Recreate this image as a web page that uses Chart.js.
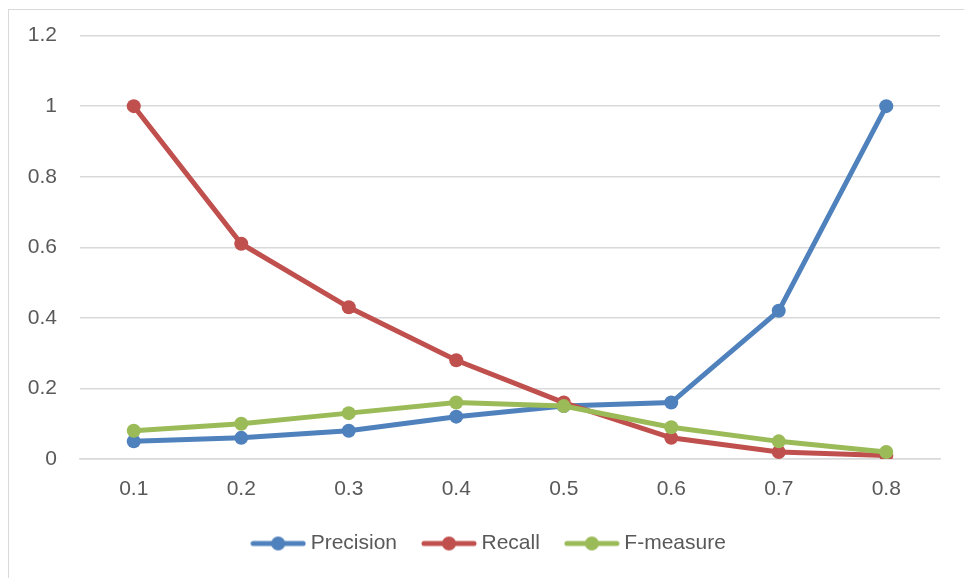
<!DOCTYPE html>
<html>
<head>
<meta charset="utf-8">
<script src="https://cdn.jsdelivr.net/npm/chart.js@4/dist/chart.umd.min.js"></script>
<style>
  html, body { margin: 0; padding: 0; background: #ffffff; overflow: hidden; }
  #frame { position: absolute; left: 8px; top: 9px; width: 1000px; height: 1000px;
           border: 1.5px solid #d9d9d9; box-sizing: border-box; }
  #wrap { position: absolute; left: 0; top: 0; width: 964px; height: 578px; }
</style>
</head>
<body>
<div id="frame"></div>
<div id="wrap"><canvas id="chart" width="964" height="578"></canvas></div>
<script>
// Threshold categories on the x axis
const thresholds = ['0.1', '0.2', '0.3', '0.4', '0.5', '0.6', '0.7', '0.8'];

// Metric values per threshold
const precision = [0.05, 0.06, 0.08, 0.12, 0.15, 0.16, 0.42, 1.00];
const recall    = [1.00, 0.61, 0.43, 0.28, 0.16, 0.06, 0.02, 0.01];
const fMeasure  = [0.08, 0.10, 0.13, 0.16, 0.15, 0.09, 0.05, 0.02];

const seriesNames = ['Precision', 'Recall', 'F-measure'];
const seriesColors = ['#4F81BD', '#C0504D', '#9BBB59'];

// Legend marker: a short line with a dot in the middle
function legendMarker(color) {
  const c = document.createElement('canvas');
  c.width = 56; c.height = 16;
  const g = c.getContext('2d');
  g.strokeStyle = color;
  g.lineWidth = 5;
  g.lineCap = 'round';
  g.beginPath();
  g.moveTo(3, 8); g.lineTo(53, 8);
  g.stroke();
  g.fillStyle = color;
  g.beginPath();
  g.arc(28, 8, 7, 0, Math.PI * 2);
  g.fill();
  return c;
}

// Centre the legend under the whole frame rather than the padded box
const legendOffset = {
  id: 'legendOffset',
  afterLayout(chart) {
    const lg = chart.legend;
    if (lg) { lg.left += 21; lg.right += 21; }
  }
};

const seriesData = [precision, recall, fMeasure];
const datasets = seriesNames.map((name, i) => ({
  label: name,
  data: seriesData[i],
  borderColor: seriesColors[i],
  backgroundColor: seriesColors[i],
  borderWidth: 5,
  pointStyle: 'circle',
  pointRadius: 7,
  pointHoverRadius: 7,
  pointBorderWidth: 0,
  tension: 0,
  order: 3 - i   // later series drawn on top
}));

const gridColor = '#d9d9d9';
const textColor = '#595959';
const fontFamily = '"Liberation Sans", Arial, sans-serif';

new Chart(document.getElementById('chart'), {
  type: 'line',
  data: { labels: thresholds, datasets },
  plugins: [legendOffset],
  options: {
    responsive: false,
    animation: false,
    events: [],
    layout: { padding: { left: 0, right: 24, top: 22, bottom: 14 } },
    scales: {
      x: {
        offset: true,
        afterFit(scale) { scale.height = 44; },
        grid: { display: false, drawTicks: false },
        border: { display: true, color: gridColor, width: 1.5 },
        ticks: { color: textColor, font: { family: fontFamily, size: 21 }, padding: 18 }
      },
      y: {
        min: 0, max: 1.2,
        afterFit(scale) { scale.width = 80; },
        grid: { color: gridColor, lineWidth: 1.5, drawTicks: false },
        border: { display: false },
        ticks: {
          stepSize: 0.2,
          color: textColor,
          font: { family: fontFamily, size: 21 },
          padding: 23,
          callback: v => String(Math.round(v * 10) / 10)
        }
      }
    },
    plugins: {
      tooltip: { enabled: false },
      legend: {
        position: 'bottom',
        labels: {
          usePointStyle: true,
          pointStyleWidth: 44,
          padding: 30,
          color: textColor,
          font: { family: fontFamily, size: 21 },
          generateLabels(chart) {
            return chart.data.datasets.map((ds, i) => ({
              text: ds.label,
              pointStyle: legendMarker(seriesColors[i]),
              fillStyle: seriesColors[i],
              strokeStyle: seriesColors[i],
              lineWidth: 0,
              fontColor: textColor,
              datasetIndex: i,
              hidden: false
            }));
          }
        }
      }
    }
  }
});
</script>
</body>
</html>
